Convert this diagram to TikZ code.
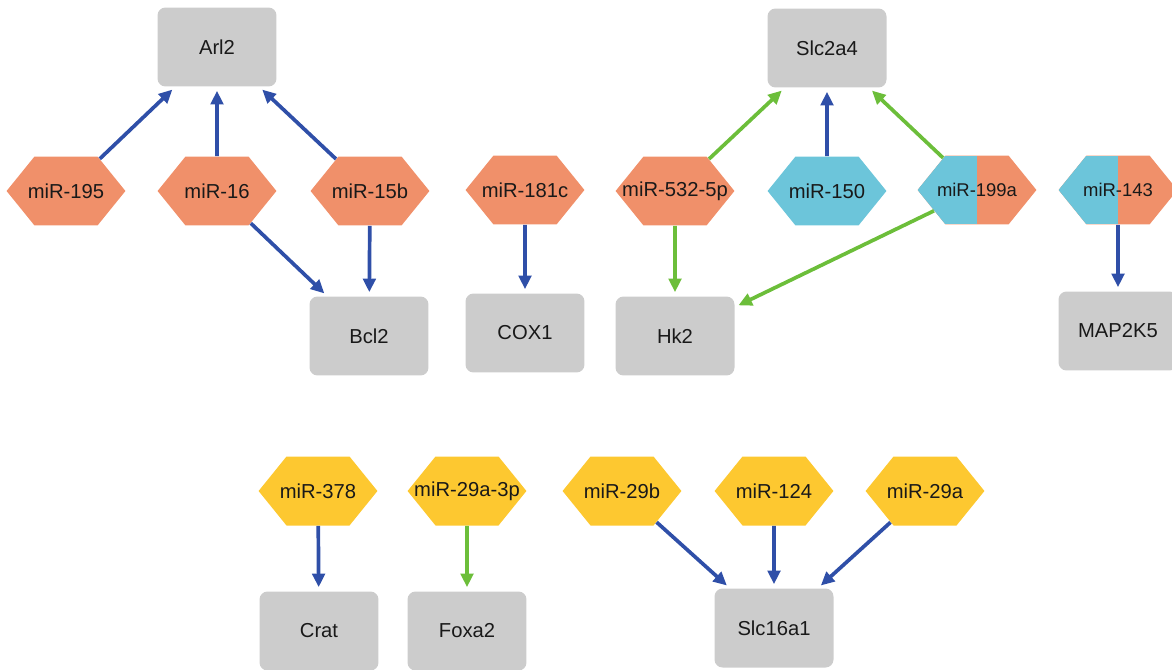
\documentclass[tikz,border=0pt]{standalone}
\usepackage{fontspec}
\setmainfont{Liberation Sans}
\usetikzlibrary{shapes.symbols, arrows.meta}

\definecolor{mirorange}{HTML}{F0906A}
\definecolor{mircyan}{HTML}{6CC5DA}
\definecolor{miryellow}{HTML}{FDC830}
\definecolor{genegray}{HTML}{CCCCCC}
\definecolor{arrblue}{HTML}{2F4FA8}
\definecolor{arrgreen}{HTML}{6CBE3A}

% fixed-width label, so every hexagon has the same size
\newcommand{\mirname}[1]{\makebox[1.26cm]{#1}}

\begin{document}
\begin{tikzpicture}[
  x=0.02cm, y=-0.02cm,
  gene/.style={rectangle, rounded corners=0.16cm, fill=genegray, minimum width=2.38cm,
               minimum height=1.58cm, font=\fontsize{11.5}{13}\selectfont, text=black!90},
  mir/.style={signal, signal to=east and west, signal pointer angle=102, inner sep=0pt,
              minimum height=1.38cm,
              font=\fontsize{11.5}{13}\selectfont, text=black!90},
  orangemir/.style={mir, fill=mirorange},
  cyanmir/.style={mir, fill=mircyan},
  yellowmir/.style={mir, fill=miryellow},
  splitmir/.style={mir, fill=mirorange, font=\fontsize{10.5}{12}\selectfont,
    path picture={
      \fill[mircyan] (path picture bounding box.south west) rectangle
                     (path picture bounding box.north);}},
  bluearr/.style={-{Triangle[length=0.27cm,width=0.25cm]}, line width=2.1pt,
                  shorten >=0.08cm, arrblue},
  greenarr/.style={bluearr, arrgreen},
]
\useasboundingbox (0,0) rectangle (1172,669);

% --- top row: genes ---
\node[gene] (arl2) at (217, 47) {Arl2};
\node[gene] (slc2a4) at (827, 48) {Slc2a4};

% --- middle row: miRNAs ---
\node[orangemir] (m195) at (66, 191) {\mirname{miR-195}};
\node[orangemir] (m16) at (217, 191) {\mirname{miR-16}};
\node[orangemir] (m15b) at (370, 191) {\mirname{miR-15b}};
\node[orangemir] (m181c) at (525, 190) {\mirname{miR-181c}};
\node[orangemir] (m532) at (675, 191) {\mirname{miR-532-5p}};
\node[cyanmir] (m150) at (827, 191) {\mirname{miR-150}};
\node[splitmir] (m199a) at (977, 190) {\mirname{miR-199a}};
\node[splitmir] (m143) at (1118, 190) {\mirname{miR-143}};

% --- lower genes ---
\node[gene] (bcl2) at (369, 336) {Bcl2};
\node[gene] (cox1) at (525, 333) {COX1};
\node[gene] (hk2) at (675, 336) {Hk2};
\node[gene] (map2k5) at (1118, 331) {MAP2K5};

% --- bottom group ---
\node[yellowmir] (m378) at (318, 491) {\mirname{miR-378}};
\node[yellowmir] (m29a3p) at (467, 491) {\mirname{miR-29a-3p}};
\node[yellowmir] (m29b) at (622, 491) {\mirname{miR-29b}};
\node[yellowmir] (m124) at (774, 491) {\mirname{miR-124}};
\node[yellowmir] (m29a) at (925, 491) {\mirname{miR-29a}};

\node[gene] (crat) at (319, 631) {Crat};
\node[gene] (foxa2) at (467, 631) {Foxa2};
\node[gene] (slc16a1) at (774, 628) {Slc16a1};

% --- edges ---
\draw[bluearr] (m195) -- (arl2);
\draw[bluearr] (m16) -- (arl2);
\draw[bluearr] (m15b) -- (arl2);
\draw[bluearr] (m16) -- (bcl2);
\draw[bluearr] (m15b) -- (bcl2);
\draw[bluearr] (m181c) -- (cox1);
\draw[greenarr] (m532) -- (slc2a4);
\draw[bluearr] (m150) -- (slc2a4);
\draw[greenarr] (m199a) -- (slc2a4);
\draw[greenarr] (m532) -- (hk2);
\draw[greenarr] (m199a) -- (hk2);
\draw[bluearr] (m143) -- (map2k5);

\draw[bluearr] (m378) -- (crat);
\draw[greenarr] (m29a3p) -- (foxa2);
\draw[bluearr] (m29b) -- (slc16a1);
\draw[bluearr] (m124) -- (slc16a1);
\draw[bluearr] (m29a) -- (slc16a1);

\end{tikzpicture}
\end{document}
